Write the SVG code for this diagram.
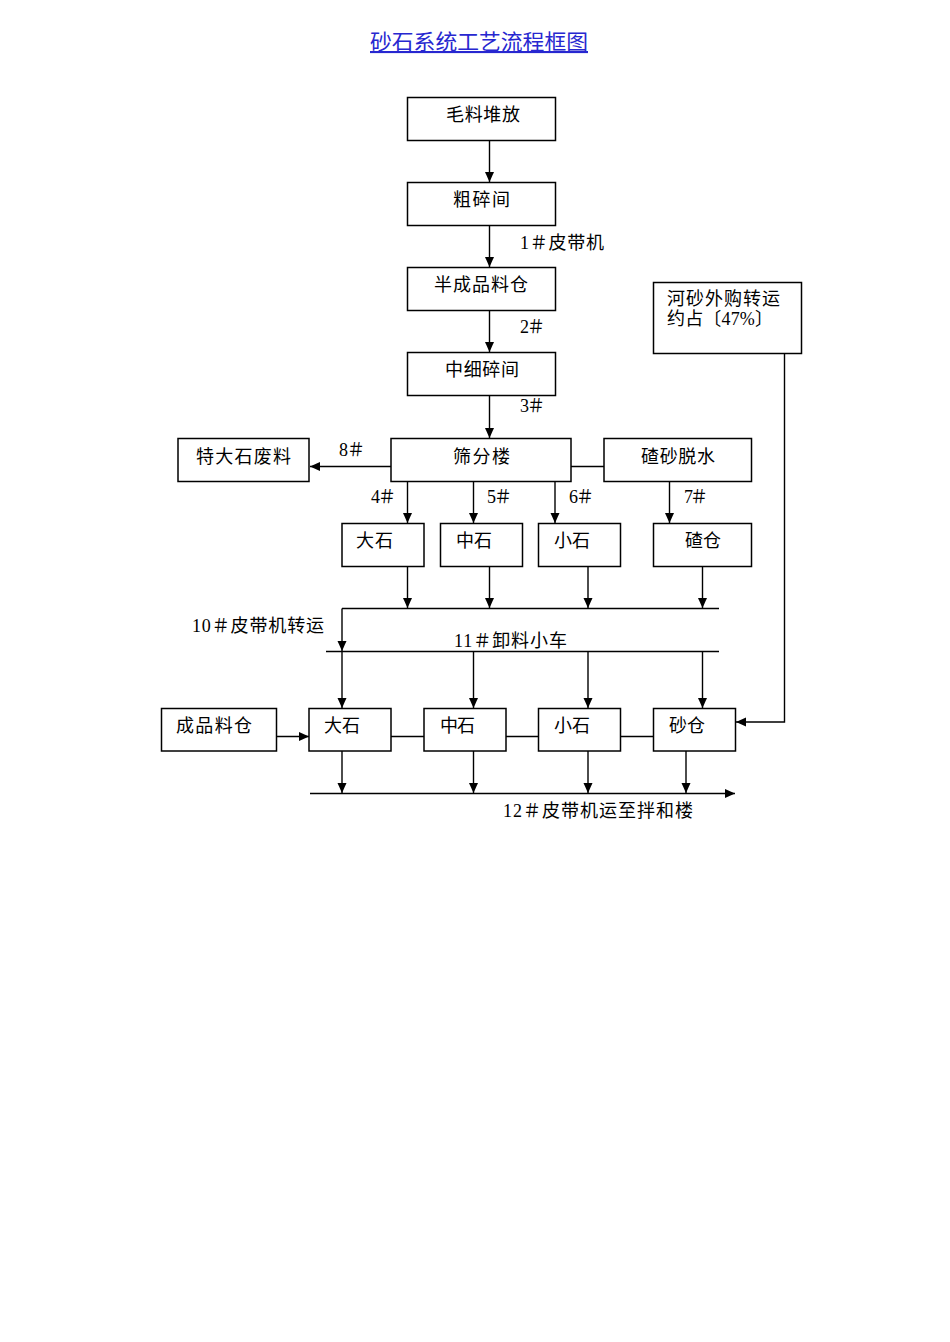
<svg xmlns="http://www.w3.org/2000/svg" width="950" height="1342" viewBox="0 0 950 1342">
<style>
.bg{fill:#ffffff}
.box{fill:#ffffff;stroke:#000;stroke-width:1.5}
.t{font-family:"Liberation Serif","Noto Sans CJK SC",serif;font-size:18px;fill:#000}
.c{fill:none;stroke:#000;stroke-width:1.4}
.title{font-family:"Noto Sans CJK SC","Liberation Sans",sans-serif;font-size:21px;fill:#2727d0;text-decoration:underline}
</style>
<defs>
<marker id="ah" markerUnits="userSpaceOnUse" markerWidth="11" markerHeight="10" refX="10" refY="4.5" orient="auto">
<path d="M0,0 L10,4.5 L0,9 z" fill="#000"/>
</marker>
</defs>
<rect class="bg" x="0" y="0" width="950" height="1342"/>
<text class="title" x="370" y="49" textLength="218" lengthAdjust="spacingAndGlyphs">砂石系统工艺流程框图</text>

<g id="n_maoliao"><rect class="box" x="407.5" y="97.5" width="148" height="43"/><text class="t" x="446" y="121" textLength="74">毛料堆放</text></g>
<g id="n_cusui"><rect class="box" x="407.5" y="182.5" width="148" height="43"/><text class="t" x="453" y="206" textLength="57">粗碎间</text></g>
<g id="n_banchengpin"><rect class="box" x="407.5" y="267.5" width="148" height="43"/><text class="t" x="434" y="291" textLength="94">半成品料仓</text></g>
<g id="n_zhongxisui"><rect class="box" x="407.5" y="352.5" width="148" height="43"/><text class="t" x="445" y="376" textLength="74">中细碎间</text></g>
<g id="n_hesha"><rect class="box" x="653.5" y="282.5" width="148" height="71"/><text class="t" x="667" y="305" textLength="113">河砂外购转运</text><text class="t" x="667" y="325" textLength="106">约占〔47%〕</text></g>
<g id="n_tedashi"><rect class="box" x="178" y="438.5" width="131" height="43"/><text class="t" x="196" y="463" textLength="95">特大石废料</text></g>
<g id="n_shaifen"><rect class="box" x="391" y="438.5" width="180" height="43"/><text class="t" x="453" y="463" textLength="57">筛分楼</text></g>
<g id="n_chasha"><rect class="box" x="604" y="438.5" width="147.5" height="43"/><text class="t" x="641" y="463" textLength="74">碴砂脱水</text></g>

<g id="n_dashi1"><rect class="box" x="342" y="523.5" width="82" height="43"/><text class="t" x="356" y="547" textLength="37">大石</text></g>
<g id="n_zhongshi1"><rect class="box" x="440.5" y="523.5" width="82" height="43"/><text class="t" x="456" y="547" textLength="36">中石</text></g>
<g id="n_xiaoshi1"><rect class="box" x="538.5" y="523.5" width="82" height="43"/><text class="t" x="554" y="547" textLength="36">小石</text></g>
<g id="n_chacang"><rect class="box" x="653.5" y="523.5" width="98" height="43"/><text class="t" x="685" y="547" textLength="36">碴仓</text></g>

<g id="n_chengpin"><rect class="box" x="161.5" y="708.5" width="115" height="42.5"/><text class="t" x="176" y="732" textLength="76">成品料仓</text></g>
<g id="n_dashi2"><rect class="box" x="309" y="708.5" width="82" height="42.5"/><text class="t" x="324" y="732" textLength="36">大石</text></g>
<g id="n_zhongshi2"><rect class="box" x="424" y="708.5" width="82" height="42.5"/><text class="t" x="440" y="732" textLength="35">中石</text></g>
<g id="n_xiaoshi2"><rect class="box" x="538.5" y="708.5" width="82" height="42.5"/><text class="t" x="554" y="732" textLength="36">小石</text></g>
<g id="n_shacang"><rect class="box" x="653.5" y="708.5" width="82" height="42.5"/><text class="t" x="669" y="732" textLength="36">砂仓</text></g>

<g id="connectors">
<line class="c" x1="489.5" y1="141" x2="489.5" y2="182" marker-end="url(#ah)"/>
<line class="c" x1="489.5" y1="226" x2="489.5" y2="267" marker-end="url(#ah)"/>
<line class="c" x1="489.5" y1="311" x2="489.5" y2="352" marker-end="url(#ah)"/>
<line class="c" x1="489.5" y1="396" x2="489.5" y2="438" marker-end="url(#ah)"/>
<line class="c" x1="391" y1="466.5" x2="310" y2="466.5" marker-end="url(#ah)"/>
<line class="c" x1="571" y1="466.5" x2="604" y2="466.5"/>
<line class="c" x1="407.5" y1="482" x2="407.5" y2="523" marker-end="url(#ah)"/>
<line class="c" x1="473.5" y1="482" x2="473.5" y2="523" marker-end="url(#ah)"/>
<line class="c" x1="555" y1="482" x2="555" y2="523" marker-end="url(#ah)"/>
<line class="c" x1="669.5" y1="482" x2="669.5" y2="523" marker-end="url(#ah)"/>
<line class="c" x1="407.5" y1="567" x2="407.5" y2="608" marker-end="url(#ah)"/>
<line class="c" x1="489.5" y1="567" x2="489.5" y2="608" marker-end="url(#ah)"/>
<line class="c" x1="588" y1="567" x2="588" y2="608" marker-end="url(#ah)"/>
<line class="c" x1="702.5" y1="567" x2="702.5" y2="608" marker-end="url(#ah)"/>
<line class="c" x1="342" y1="608.5" x2="719" y2="608.5"/>
<line class="c" x1="342" y1="608.5" x2="342" y2="651" marker-end="url(#ah)"/>
<line class="c" x1="326" y1="651.5" x2="719" y2="651.5"/>
<line class="c" x1="342" y1="652" x2="342" y2="708" marker-end="url(#ah)"/>
<line class="c" x1="473.5" y1="652" x2="473.5" y2="708" marker-end="url(#ah)"/>
<line class="c" x1="588" y1="652" x2="588" y2="708" marker-end="url(#ah)"/>
<line class="c" x1="702.5" y1="652" x2="702.5" y2="708" marker-end="url(#ah)"/>
<line class="c" x1="276.5" y1="736.5" x2="309" y2="736.5" marker-end="url(#ah)"/>
<line class="c" x1="391" y1="736.5" x2="424" y2="736.5"/>
<line class="c" x1="506" y1="736.5" x2="538.5" y2="736.5"/>
<line class="c" x1="620.5" y1="736.5" x2="653.5" y2="736.5"/>
<polyline class="c" points="784.5,354 784.5,722 736,722" marker-end="url(#ah)"/>
<line class="c" x1="342" y1="751" x2="342" y2="793" marker-end="url(#ah)"/>
<line class="c" x1="473.5" y1="751" x2="473.5" y2="793" marker-end="url(#ah)"/>
<line class="c" x1="588" y1="751" x2="588" y2="793" marker-end="url(#ah)"/>
<line class="c" x1="686" y1="751" x2="686" y2="793" marker-end="url(#ah)"/>
<line class="c" x1="310" y1="793.5" x2="735" y2="793.5" marker-end="url(#ah)"/>
</g>

<g id="labels">
<text class="t" x="520" y="249" textLength="84">1＃皮带机</text>
<text class="t" x="520" y="333" textLength="25">2＃</text>
<text class="t" x="520" y="412" textLength="25">3＃</text>
<text class="t" x="339" y="456" textLength="26">8＃</text>
<text class="t" x="371" y="503" textLength="25">4＃</text>
<text class="t" x="487" y="503" textLength="25">5＃</text>
<text class="t" x="569" y="503" textLength="25">6＃</text>
<text class="t" x="684" y="503" textLength="24">7＃</text>
<text class="t" x="192" y="632" textLength="132">10＃皮带机转运</text>
<text class="t" x="454" y="647" textLength="113">11＃卸料小车</text>
<text class="t" x="503" y="817" textLength="190">12＃皮带机运至拌和楼</text>
</g>
</svg>
